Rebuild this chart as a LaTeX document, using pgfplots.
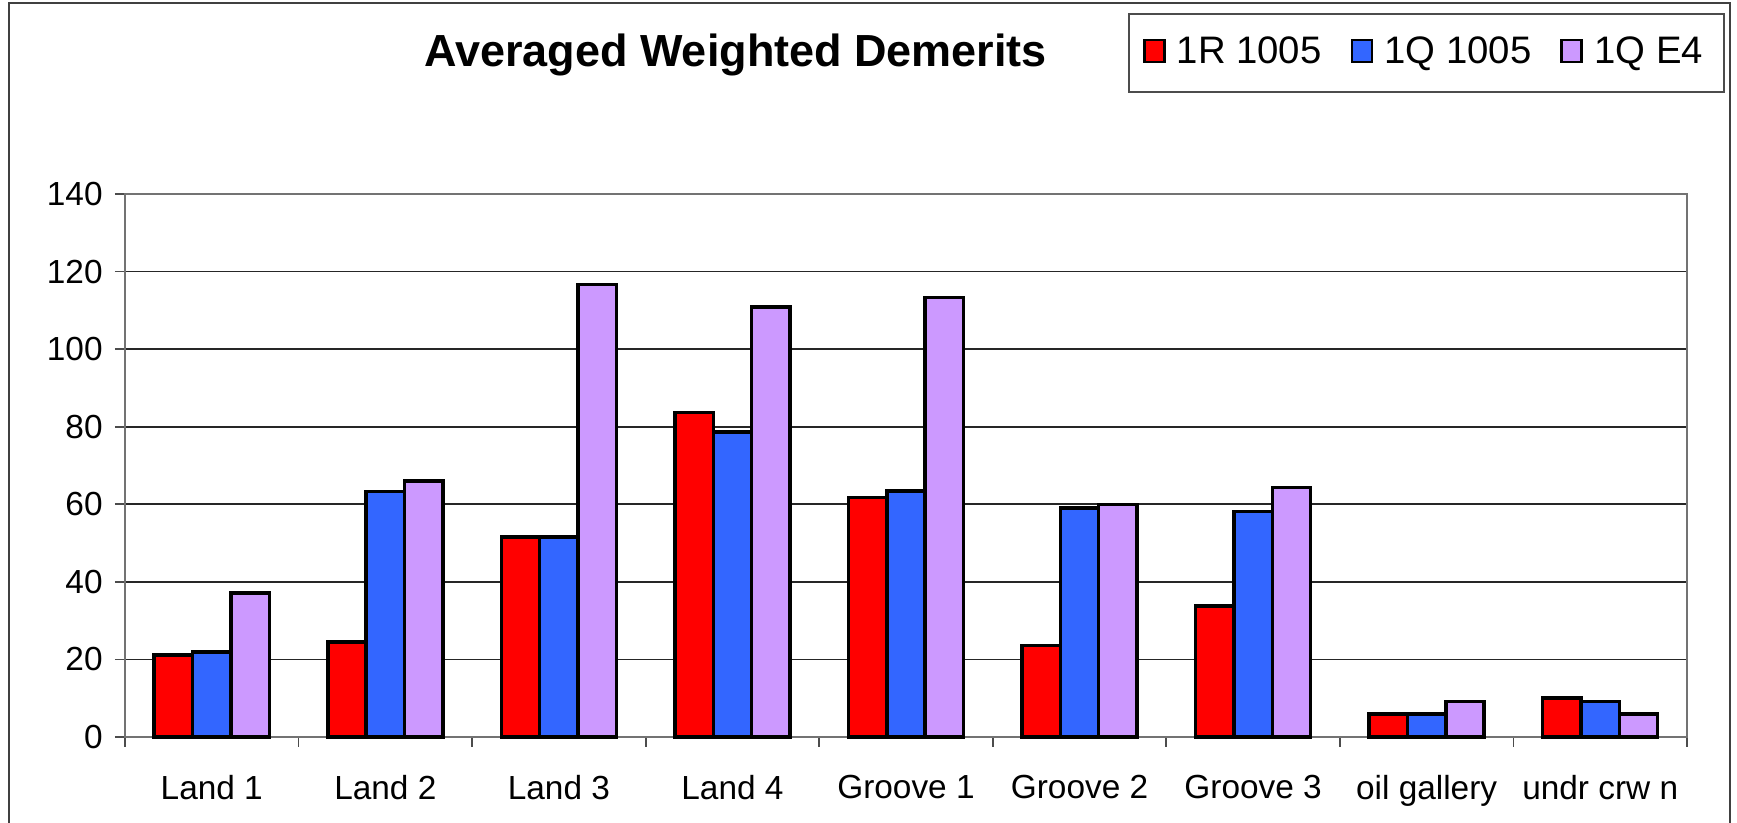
\documentclass[border=0pt]{standalone}
\usepackage{fontspec}
\setmainfont{Liberation Sans}
\usepackage{pgfplots}
\pgfplotsset{compat=1.18}
\definecolor{redbar}{RGB}{255,0,0}
\definecolor{bluebar}{RGB}{51,102,255}
\definecolor{lilacbar}{RGB}{204,153,255}

\begin{document}
\begin{tikzpicture}
\useasboundingbox (0,0) rectangle (17.37,8.23);
% outer chart frame (bottom edge lies below the page)
\draw[black!75, line width=0.6pt] (0.09,-0.5) -- (0.09,8.20) -- (17.30,8.20) -- (17.30,-0.5);
\begin{axis}[
    at={(1.25cm,0.86cm)}, anchor=south west,
    scale only axis, width=15.62cm, height=5.43cm,
    clip=false,
    ybar=0pt, bar width=0.221,
    xmin=-0.5, xmax=8.5, ymin=0, ymax=140,
    ytick={0,20,...,140},
    xtick={0,...,8},
    xticklabels={Land 1, Land 2, Land 3, Land 4, Groove 1, Groove 2, Groove 3, oil gallery, undr crw n},
    minor xtick={-0.5,0.5,...,8.5},
    major x tick style={draw=none},
    xtick pos=bottom, ytick pos=left,
    tick align=outside,
    major tick length=0.1cm, minor tick length=0.1cm,
    tick style={black!70, line width=0.5pt},
    axis line style={black!55, line width=0.8pt},
    ymajorgrids, grid style={black!85, line width=0.5pt},
    tick label style={font=\fontsize{9.5}{11}\selectfont},
    /pgf/number format/assume math mode=true,
    xticklabel style={yshift=-0.16cm},
    every axis plot/.append style={draw=black, line width=1pt},
    legend columns=-1,
    legend style={at={(axis description cs:0.642,1.333)}, anchor=north west,
        draw=black!70, line width=0.6pt, font=\fontsize{10.9}{12}\selectfont,
        inner xsep=4pt, inner ysep=4.5pt,
        /tikz/every odd column/.append style={column sep=0.04cm},
        /tikz/every even column/.append style={column sep=0.22cm}},
    legend image code/.code={\draw[#1, line width=0.8pt] (0pt,-0.09cm) rectangle (0.2cm,0.13cm);},
]
\addplot[fill=redbar] coordinates {(0,21.1)(1,24.5)(2,51.6)(3,83.7)(4,61.7)(5,23.6)(6,33.8)(7,5.9)(8,10.1)};
\addlegendentry{1R 1005}
\addplot[fill=bluebar] coordinates {(0,21.9)(1,63.3)(2,51.6)(3,78.6)(4,63.4)(5,59.1)(6,58.2)(7,5.9)(8,9.2)};
\addlegendentry{1Q 1005}
\addplot[fill=lilacbar] coordinates {(0,37.1)(1,66.0)(2,116.7)(3,110.8)(4,113.3)(5,59.9)(6,64.3)(7,9.2)(8,5.9)};
\addlegendentry{1Q E4}
\node[font=\bfseries\fontsize{12.8}{15}\selectfont] at (axis description cs:0.391,1.256) {Averaged Weighted Demerits};
\end{axis}
\end{tikzpicture}
\end{document}
